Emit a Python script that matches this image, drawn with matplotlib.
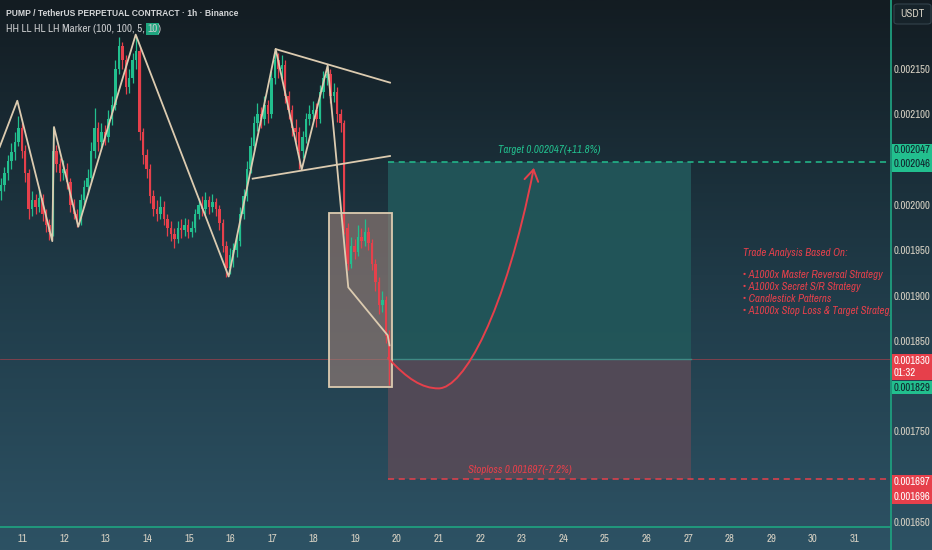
import numpy as np
import matplotlib
matplotlib.use('Agg')
import matplotlib.pyplot as plt
from matplotlib import font_manager
from matplotlib.font_manager import FontProperties
from matplotlib.textpath import TextToPath
from matplotlib.colors import LinearSegmentedColormap
from matplotlib.patches import Rectangle, FancyArrowPatch, FancyBboxPatch
from matplotlib.path import Path
from matplotlib.transforms import blended_transform_factory

U = 1e-6  # prices below are in 1e-6 USDT

# 2h candles, first one at day 10.48
t0 = 10.48
step = 1 / 12
first_open = 2015
close = [2022, 2035, 2048, 2058, 2070, 2085, 2060, 2035, 1995, 2005, 1998, 2008, 1990, 1978, 1970,
         2060, 2045, 2035, 2040, 2025, 2000, 1990, 1982, 2005, 2020, 2030, 2060, 2085, 2070, 2080,
         2075, 2095, 2110, 2150, 2175, 2160, 2130, 2140, 2160, 2170, 2080, 2055, 2040, 2010, 1995,
         1990, 1998, 1985, 1975, 1968, 1962, 1975, 1972, 1978, 1970, 1975, 1990, 2000, 1995, 2005,
         1998, 2003, 1995, 1980, 1955, 1930, 1945, 1950, 1960, 1990, 2010, 2040, 2065, 2090, 2100,
         2095, 2110, 2100, 2140, 2160, 2150, 2155, 2120, 2105, 2085, 2080, 2060, 2075, 2095, 2100,
         2105, 2095, 2125, 2140, 2145, 2120, 2125, 2100, 2090, 1975, 1935, 1955, 1948, 1965, 1960,
         1970, 1958, 1935, 1915, 1890, 1895, 1855, 1830]
high = [2030, 2042, 2055, 2068, 2080, 2098, 2090, 2066, 2040, 2015, 2012, 2018, 2012, 1995, 1984,
        2086, 2066, 2052, 2050, 2046, 2030, 2006, 1995, 2012, 2028, 2040, 2070, 2107, 2092, 2090,
        2088, 2105, 2120, 2160, 2185, 2180, 2165, 2150, 2168, 2187, 2174, 2085, 2062, 2045, 2016,
        2005, 2010, 2004, 1990, 1982, 1974, 1982, 1985, 1986, 1984, 1982, 1996, 2008, 2010, 2014,
        2010, 2012, 2008, 2000, 1984, 1960, 1952, 1958, 1968, 1998, 2018, 2048, 2075, 2098, 2112,
        2108, 2120, 2116, 2148, 2172, 2168, 2165, 2160, 2126, 2110, 2095, 2086, 2082, 2102, 2110,
        2115, 2112, 2132, 2148, 2153, 2150, 2135, 2130, 2106, 2094, 1980, 1965, 1962, 1978, 1975,
        1985, 1976, 1962, 1940, 1920, 1905, 1900, 1862]
low = [2005, 2015, 2028, 2040, 2050, 2065, 2052, 2025, 1985, 1988, 1990, 1992, 1982, 1970, 1961,
       1966, 2036, 2026, 2028, 2018, 1992, 1984, 1976, 1978, 1998, 2012, 2025, 2052, 2060, 2062,
       2066, 2070, 2088, 2105, 2145, 2150, 2122, 2124, 2135, 2150, 2072, 2045, 2030, 2002, 1988,
       1982, 1984, 1978, 1966, 1960, 1953, 1958, 1964, 1966, 1963, 1965, 1970, 1984, 1988, 1990,
       1990, 1992, 1988, 1972, 1948, 1921, 1924, 1932, 1942, 1955, 1985, 2004, 2035, 2060, 2082,
       2085, 2088, 2090, 2096, 2134, 2140, 2140, 2112, 2095, 2076, 2070, 2040, 2052, 2068, 2088,
       2094, 2086, 2090, 2118, 2132, 2112, 2114, 2092, 2080, 1968, 1928, 1930, 1940, 1944, 1952,
       1955, 1950, 1928, 1905, 1880, 1882, 1848, 1801]

days = list(range(11, 32))
yticks = [2150, 2100, 2000, 1950, 1900, 1850, 1750, 1650]

# HH LL HL LH marker zigzag
zz_day = [10.45, 10.873, 11.714, 11.755, 12.339, 13.719, 15.954, 17.084, 17.709, 18.334, 18.829, 19.777, 19.82]
zz_price = [2064, 2115, 1960, 2086, 1976, 2188, 1921, 2172, 2039, 2154, 1909, 1856, 1845]

# triangle
tri_up_day, tri_up_price = [17.084, 19.832], [2172, 2135]
tri_lo_day, tri_lo_price = [16.531, 19.832], [2029, 2054]

# box around the drop
box_day = [18.365, 19.873]
box_price = [1799, 1991]

# position
entry, target, stop = 1830, 2047, 1697
zone_day = [19.784, 27.075]

# projected path (bezier anchors)
curve_day = [19.784, 20.25, 20.6, 21.0, 21.6, 22.6, 23.29]
curve_price = [1831, 1808, 1797.5, 1797.5, 1797.5, 1880, 2041]

notes = ["Trade Analysis Based On:", "",
         "\u2022 A1000x Master Reversal Strategy",
         "\u2022 A1000x Secret S/R Strategy",
         "\u2022 Candlestick Patterns",
         "\u2022 A1000x Stop Loss & Target Strategy"]

# pick a narrow face if one is installed
FAM, STRETCH = 'Liberation Sans', 'normal'
entries = font_manager.fontManager.ttflist
narrow = [f.name for f in entries if 'Narrow' in f.name or 'Condensed' in f.name]
if narrow:
    FAM = narrow[0]
elif any(f.name == 'DejaVu Sans' and str(f.stretch) in ('condensed', 'semi-condensed') for f in entries):
    FAM, STRETCH = 'DejaVu Sans', 'condensed'
plt.rcParams['font.family'] = [FAM, 'DejaVu Sans']
plt.rcParams['font.stretch'] = STRETCH

t2p = TextToPath()


def fit(s, px, size, family=None, **kw):
    # largest size <= size whose rendered width is <= px pixels
    fp = FontProperties(family=family or FAM, stretch=STRETCH, size=size, **kw)
    w = t2p.get_text_width_height_descent(s, fp, ismath=False)[0] * 100 / 72
    return min(size, size * px / w)


GREEN = '#22bf8e'
RED = '#e6404b'
TAN = '#dccbb0'
LABEL = '#d8d2c4'

W, H = 932, 550
fig = plt.figure(figsize=(W / 100, H / 100), dpi=100)

bg = fig.add_axes([0, 0, 1, 1])
bg.axis('off')
cmap = LinearSegmentedColormap.from_list('bg', ['#2d5264', '#1f3a47', '#131c22'])
bg.imshow(np.linspace(0, 1, 256).reshape(-1, 1), origin='lower', extent=[0, 1, 0, 1],
          aspect='auto', cmap=cmap)

ax = fig.add_axes([0, 23 / H, 890 / W, 527 / H])
ax.patch.set_alpha(0)
ax.set_xlim(10.457, 31.851)
ax.set_ylim(1644.5 * U, 2226.2 * U)

c = np.array(close) * U
o = np.array([first_open] + close[:-1]) * U
hi = np.array(high) * U
lo = np.array(low) * U
x = t0 + step * np.arange(len(close))
cols = [GREEN if cc >= oo else RED for cc, oo in zip(c, o)]

# zones
ax.add_patch(Rectangle((zone_day[0], entry * U), zone_day[1] - zone_day[0], (target - entry) * U,
                       facecolor='#22575a', alpha=0.92, lw=0, zorder=1))
ax.add_patch(Rectangle((zone_day[0], stop * U), zone_day[1] - zone_day[0], (entry - stop) * U,
                       facecolor='#564a57', alpha=0.92, lw=0, zorder=1))
ax.plot(zone_day, [entry * U] * 2, color='#3f8a84', lw=1.0, zorder=1.5)
ax.axhline(entry * U, color='#b8404c', lw=0.6, alpha=0.7, zorder=1.2)
ax.plot([zone_day[0], 31.851], [target * U] * 2, color=GREEN, lw=1.1, ls=(0, (4, 3)), zorder=2)
ax.plot([zone_day[0], 31.851], [stop * U] * 2, color=RED, lw=1.1, ls=(0, (4, 3)), zorder=2)

ax.add_patch(Rectangle((box_day[0], box_price[0] * U), box_day[1] - box_day[0],
                       (box_price[1] - box_price[0]) * U, facecolor='#9e827a', alpha=0.6,
                       edgecolor='none', zorder=2))
ax.add_patch(Rectangle((box_day[0], box_price[0] * U), box_day[1] - box_day[0],
                       (box_price[1] - box_price[0]) * U, facecolor='none',
                       edgecolor=TAN, lw=1.3, zorder=5))

# candles
ax.vlines(x, lo, hi, colors=cols, lw=0.9, zorder=3)
ax.bar(x, np.maximum(np.abs(c - o), 1.5 * U), bottom=np.minimum(c, o), width=0.06,
       color=cols, lw=0, zorder=3)

ax.plot(zz_day, np.array(zz_price) * U, color=TAN, lw=1.3, zorder=4)
ax.plot(tri_up_day, np.array(tri_up_price) * U, color=TAN, lw=1.3, zorder=4)
ax.plot(tri_lo_day, np.array(tri_lo_price) * U, color=TAN, lw=1.3, zorder=4)

verts = list(zip(curve_day, np.array(curve_price) * U))
codes = [Path.MOVETO] + [Path.CURVE4] * 6
ax.add_patch(FancyArrowPatch(path=Path(verts, codes), arrowstyle='->,head_length=0.8,head_width=0.5',
                             mutation_scale=10, color=RED, lw=1.4, zorder=6))

fs_note = fit(notes[0], 110, 7.8, style='italic')
ital = dict(style='italic', fontsize=fs_note)
ax.text(23.654, 2060.6 * U, 'Target 0.002047(+11.8%)', color=GREEN, ha='center', va='center', **ital)
ax.text(22.96, 1707.3 * U, 'Stoploss 0.001697(-7.2%)', color=RED, ha='center', va='center', **ital)
for k, line in enumerate(notes):
    dy = 0 if k == 0 else -(22 + (k - 2) * 12) * 0.72
    ax.annotate(line, xy=(28.318, 1946.9 * U), xytext=(0, dy), textcoords='offset points',
                color=RED, ha='left', va='center', annotation_clip=False, clip_on=True, **ital)

# axes styling
fs_tick = fit('0.002150', 37, 7.8)
for s in ['top', 'left', 'right']:
    ax.spines[s].set_visible(False)
ax.spines['bottom'].set_color('#1f9e7e')
ax.spines['bottom'].set_linewidth(1.3)
ax.yaxis.tick_right()
ax.set_yticks([v * U for v in yticks])
ax.set_yticklabels([f'{v * U:.6f}' for v in yticks])
ax.set_xticks(days)
ax.set_xticklabels([str(d) for d in days])
ax.tick_params(axis='y', length=0, pad=2.5, labelsize=fs_tick, labelcolor=LABEL)
ax.tick_params(axis='x', length=0, pad=5, labelsize=7.8, labelcolor=LABEL)
fig.add_artist(plt.Line2D([890.5 / W] * 2, [0, 1], color='#1f9e7e', lw=1.3))

# right-side price tags
tr = blended_transform_factory(fig.transFigure, ax.transData)
tags = [(target, 20.5, -10.5, GREEN, '#10202a', ['0.002047', '0.002046'], [14, -2]),
        (entry, 5.4, -23.3, RED, 'white', ['0.001830', '01:32'], [-2.4, -16]),
        (entry, -24.4, -39, GREEN, '#10202a', ['0.001829'], [-32]),
        (stop, 4.8, -26.7, RED, 'white', ['0.001697', '0.001696'], [-3, -19])]
for p, top, bot, fc, tc, labels, offs in tags:
    fig.add_artist(Rectangle((892 / W, (p + bot) * U), 40 / W, (top - bot) * U, transform=tr,
                             facecolor=fc, lw=0))
    for lab, off in zip(labels, offs):
        fig.text(893.5 / W, (p + off) * U, lab, transform=tr, color=tc, fontsize=fs_tick,
                 ha='left', va='center')

fig.add_artist(FancyBboxPatch((894 / W, 1 - 24 / H), 37 / W, 20 / H, boxstyle='round,pad=0,rounding_size=0.004',
                              transform=fig.transFigure, facecolor='#17232a', edgecolor='#33434c', lw=0.8))
fig.text(912 / W, 1 - 14 / H, 'USDT', color=LABEL, fontsize=fs_tick, ha='center', va='center')

# header
head = 'PUMP / TetherUS PERPETUAL CONTRACT \u00b7 1h \u00b7 Binance'
fs_head = fit(head, 232, 8.5, family='Liberation Sans', weight='bold')
fig.text(6 / W, 1 - 14 / H, head, color='#d4d6d8', fontsize=fs_head, fontweight='bold',
         family=['Liberation Sans', 'DejaVu Sans'], ha='left', va='center')
fs_sub = fit('HH LL HL LH Marker (100, 100, 5, 10)', 155, 8.5)
t1 = fig.text(6 / W, 1 - 29 / H, 'HH LL HL LH Marker (100, 100, 5, ', color='#c8cacc',
              fontsize=fs_sub, ha='left', va='center')
t2 = ax.annotate('10', xy=(1, 0), xycoords=t1, ha='left', va='bottom', color='#c8cacc',
                 fontsize=fs_sub, annotation_clip=False,
                 bbox=dict(boxstyle='square,pad=0.1', facecolor='#1fa57f', lw=0))
ax.annotate(')', xy=(1, 0), xycoords=t2, ha='left', va='bottom', color='#c8cacc',
            fontsize=fs_sub, annotation_clip=False)

fig.savefig('out.png', dpi=100)
